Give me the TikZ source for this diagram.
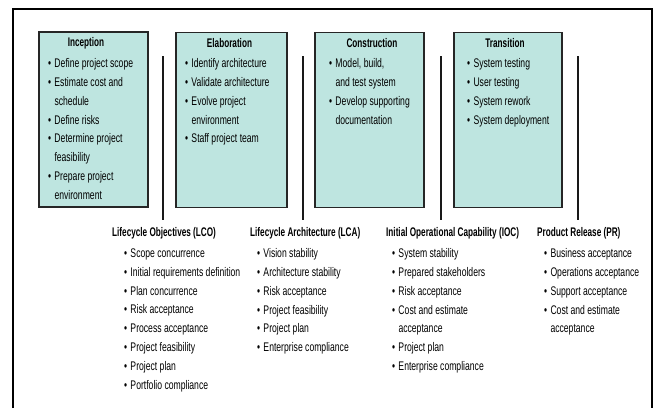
\documentclass[tikz,border=0pt]{standalone}
\usepackage{fontspec}
\setmainfont{Liberation Sans}[FakeStretch=0.69, BoldFeatures={FakeStretch=0.655}]
\newcommand\lstfont{\fontsize{12.5}{18.8}\selectfont}
\newcommand\ttlfont{\fontsize{12.5}{18.8}\selectfont\bfseries}
\newcommand\itm[1]{\makebox[6.3pt][l]{\textbullet}#1}
\newcommand\cnt[1]{\hspace*{6.3pt}#1}
\definecolor{phasefill}{RGB}{190,229,224}
\begin{document}
\begin{tikzpicture}[x=1pt,y=-1pt,
  phasebox/.style={draw=black!85, line width=1.4pt, fill=phasefill, inner sep=0pt},
  ttl/.style={inner sep=0pt, font=\ttlfont, anchor=center},
  lst/.style={inner sep=0pt, anchor=north west, align=left, font=\lstfont},
  milestone/.style={line width=2pt, black!90},
  frame/.style={line width=2pt, black}]
\useasboundingbox (0,0) rectangle (654,408);
% frame
\coordinate (fbl) at (13,408);
\coordinate (ftl) at (13,9);
\coordinate (ftr) at (652,9);
\coordinate (fbr) at (652,408);
\draw[frame] (fbl) -- (ftl) -- (ftr) -- (fbr);
% phase boxes
\node[phasebox, minimum width=109pt, minimum height=175pt] (inc) at (93.5,119.5) {};
\node[phasebox, minimum width=111pt, minimum height=175pt] (ela) at (231.5,120) {};
\node[phasebox, minimum width=109pt, minimum height=175pt] (con) at (369.5,120) {};
\node[phasebox, minimum width=108pt, minimum height=175pt] (tra) at (508,120) {};
% titles
\node[ttl] (incT) at (86,43) {Inception};
\node[ttl] (elaT) at (229.5,43) {Elaboration};
\node[ttl] (conT) at (372,43) {Construction};
\node[ttl] (traT) at (505,43) {Transition};
% lists in boxes
\node[lst] (incL) at (48,58.5) {\itm{Define project scope}\\\itm{Estimate cost and}\\\cnt{schedule}\\\itm{Define risks}\\\itm{Determine project}\\\cnt{feasibility}\\\itm{Prepare project}\\\cnt{environment}};
\node[lst] (elaL) at (185,58.5) {\itm{Identify architecture}\\\itm{Validate architecture}\\\itm{Evolve project}\\\cnt{environment}\\\itm{Staff project team}};
\node[lst] (conL) at (329,58.5) {\itm{Model, build,}\\\cnt{and test system}\\\itm{Develop supporting}\\\cnt{documentation}};
\node[lst] (traL) at (467,58.5) {\itm{System testing}\\\itm{User testing}\\\itm{System rework}\\\itm{System deployment}};
% milestone lines
\foreach \n/\x in {1/163,2/303,3/441,4/578}{
  \coordinate (m\n t) at (\x,56);
  \coordinate (m\n b) at (\x,220);
  \draw[milestone] (m\n t) -- (m\n b);
}
% milestone titles
\node[ttl, anchor=west] (lcoT) at (112,233) {Lifecycle Objectives (LCO)};
\node[ttl, anchor=west] (lcaT) at (250,233) {Lifecycle Architecture (LCA)};
\node[ttl, anchor=west] (iocT) at (386,233) {Initial Operational Capability (IOC)};
\node[ttl, anchor=west] (prT) at (537,233) {Product Release (PR)};
% milestone lists
\node[lst] (lcoL) at (124,248.5) {\itm{Scope concurrence}\\\itm{Initial requirements definition}\\\itm{Plan concurrence}\\\itm{Risk acceptance}\\\itm{Process acceptance}\\\itm{Project feasibility}\\\itm{Project plan}\\\itm{Portfolio compliance}};
\node[lst] (lcaL) at (257,248.5) {\itm{Vision stability}\\\itm{Architecture stability}\\\itm{Risk acceptance}\\\itm{Project feasibility}\\\itm{Project plan}\\\itm{Enterprise compliance}};
\node[lst] (iocL) at (392,248.5) {\itm{System stability}\\\itm{Prepared stakeholders}\\\itm{Risk acceptance}\\\itm{Cost and estimate}\\\cnt{acceptance}\\\itm{Project plan}\\\itm{Enterprise compliance}};
\node[lst] (prL) at (544,248.5) {\itm{Business acceptance}\\\itm{Operations acceptance}\\\itm{Support acceptance}\\\itm{Cost and estimate}\\\cnt{acceptance}};
\end{tikzpicture}
\end{document}
